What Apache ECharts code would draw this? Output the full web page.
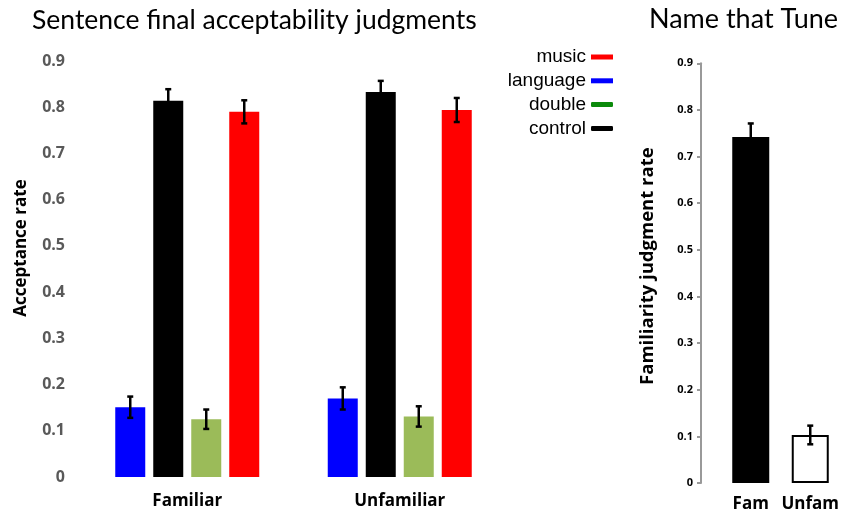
<!DOCTYPE html>
<html>
<head>
<meta charset="utf-8">
<script src="https://cdn.jsdelivr.net/npm/echarts@6/dist/echarts.min.js"></script>
<style>html,body{margin:0;padding:0;background:#fff}#c{width:845px;height:513px}</style>
</head>
<body>
<div id="c"></div>
<script>
const categories = ['Familiar', 'Unfamiliar'];
const languageVals = [0.151, 0.170];
const languageErr = [0.023, 0.024];
const controlVals = [0.814, 0.833];
const controlErr = [0.025, 0.024];
const doubleVals = [0.125, 0.131];
const doubleErr = [0.021, 0.022];
const musicVals = [0.790, 0.794];
const musicErr = [0.025, 0.026];
const yTicks = ['0', '0.1', '0.2', '0.3', '0.4', '0.5', '0.6', '0.7', '0.8', '0.9'];
const tuneCategories = ['Fam', 'Unfam'];
const tuneVals = [0.742, 0.103];
const tuneErr = [0.029, 0.020];

const BAR_W = 30, BAR_GAP_PX = 8;
const leftSeries = [
  {name: 'language', vals: languageVals, err: languageErr, color: '#0000ff'},
  {name: 'control', vals: controlVals, err: controlErr, color: '#000000'},
  {name: 'double', vals: doubleVals, err: doubleErr, color: '#9bbb59'},
  {name: 'music', vals: musicVals, err: musicErr, color: '#ff0000'}
];

function errRender(offsetFn) {
  return function (params, api) {
    const ci = api.value(0), v = api.value(1), e = api.value(2), si = api.value(3);
    const top = api.coord([ci, v + e]);
    const bot = api.coord([ci, v - e]);
    const x = top[0] + offsetFn(si);
    const cap = 3;
    const st = {stroke: '#000', lineWidth: 2.5};
    return {
      type: 'group',
      children: [
        {type: 'line', shape: {x1: x, y1: top[1], x2: x, y2: bot[1]}, style: st},
        {type: 'line', shape: {x1: x - cap, y1: top[1], x2: x + cap, y2: top[1]}, style: st},
        {type: 'line', shape: {x1: x - cap, y1: bot[1], x2: x + cap, y2: bot[1]}, style: st}
      ]
    };
  };
}

const leftErrData = [];
leftSeries.forEach((s, si) => s.vals.forEach((v, ci) => leftErrData.push([ci, v, s.err[ci], si])));
const tuneErrData = tuneVals.map((v, ci) => [ci, v, tuneErr[ci], 0]);

const chart = echarts.init(document.getElementById('c'));
const option = {
  animation: false,
  backgroundColor: '#fff',
  title: [
    {text: 'Sentence final acceptability judgments', left: 32, top: 7, padding: 0,
     textStyle: {fontFamily: 'Lato', fontWeight: 'normal', fontSize: 26.5, color: '#000'}},
    {text: 'Name that Tune', right: 7, top: 6, padding: 0,
     textStyle: {fontFamily: 'Lato', fontWeight: 'normal', fontSize: 27, color: '#000'}}
  ],
  legend: {
    orient: 'vertical', align: 'right', right: 232, top: 47.5, padding: 0,
    itemWidth: 22, itemHeight: 5, itemGap: 4.8,
    textStyle: {fontFamily: 'Liberation Sans', fontSize: 19, color: '#000', lineHeight: 19, padding: [0, 0, 0, 0]},
    data: [
      {name: 'music', icon: 'rect', itemStyle: {color: '#ff0000'}},
      {name: 'language', icon: 'rect', itemStyle: {color: '#0000ff'}},
      {name: 'double', icon: 'roundRect', itemStyle: {color: '#0b8a0b'}},
      {name: 'control', icon: 'roundRect', itemStyle: {color: '#000000'}}
    ]
  },
  grid: [
    {left: 81, right: 339, top: 61, bottom: 36},
    {left: 721, right: 5, top: 63.3, bottom: 28.7}
  ],
  xAxis: [
    {type: 'category', gridIndex: 0, data: categories,
     axisLine: {show: false}, axisTick: {show: false},
     axisLabel: {interval: 0, margin: 16, fontFamily: 'Open Sans', fontWeight: 'bold', fontSize: 17, color: '#000'}},
    {type: 'category', gridIndex: 1, data: tuneCategories,
     axisLine: {show: false}, axisTick: {show: false},
     axisLabel: {interval: 0, hideOverlap: false, margin: 13, fontFamily: 'Open Sans', fontWeight: 'bold', fontSize: 17, color: '#000'}}
  ],
  yAxis: [
    {type: 'value', gridIndex: 0, min: 0, max: 0.9, interval: 0.1,
     name: 'Acceptance rate', nameLocation: 'middle', nameGap: 51,
     nameTextStyle: {fontFamily: 'Open Sans', fontWeight: 'bold', fontSize: 17, color: '#000', padding: [0, 0, 0, 42]},
     axisLine: {show: false}, axisTick: {show: false}, splitLine: {show: false},
     axisLabel: {margin: 16, fontFamily: 'Open Sans', fontWeight: 'bold', fontSize: 16, color: '#595959',
                 formatter: (v) => yTicks[Math.round(v * 10)]}},
    {type: 'value', gridIndex: 1, min: 0, max: 0.9, interval: 0.1, offset: 20,
     name: 'Familiarity judgment rate', nameLocation: 'middle', nameGap: 44,
     nameTextStyle: {fontFamily: 'Open Sans', fontWeight: 'bold', fontSize: 18.5, color: '#000', padding: [0, 0, 0, 14]},
     axisLine: {show: true, lineStyle: {color: '#999', width: 2}},
     axisTick: {show: true, length: 4, lineStyle: {color: '#999', width: 2}},
     splitLine: {show: false},
     axisLabel: {margin: 8, fontFamily: 'Open Sans', fontWeight: 'bold', fontSize: 11, color: '#000',
                 formatter: (v) => yTicks[Math.round(v * 10)]}}
  ],
  series: [
    ...leftSeries.map(s => ({
      type: 'bar', name: s.name, xAxisIndex: 0, yAxisIndex: 0,
      data: s.vals, barWidth: BAR_W, barGap: (BAR_GAP_PX / BAR_W * 100) + '%',
      itemStyle: {color: s.color}
    })),
    {type: 'custom', name: 'errLeft', xAxisIndex: 0, yAxisIndex: 0, z: 10,
     renderItem: errRender(si => (si - 1.5) * (BAR_W + BAR_GAP_PX)),
     data: leftErrData, encode: {x: 0, y: 1}},
    {type: 'bar', name: 'tune', xAxisIndex: 1, yAxisIndex: 1, barWidth: 37,
     data: tuneVals.map((v, i) => ({value: v, itemStyle: i === 0 ? {color: '#000'} : {color: '#fff', borderColor: '#000', borderWidth: 2}}))},
    {type: 'custom', name: 'errTune', xAxisIndex: 1, yAxisIndex: 1, z: 10,
     renderItem: errRender(si => 0), data: tuneErrData, encode: {x: 0, y: 1}}
  ]
};
chart.setOption(option);
</script>
</body>
</html>
